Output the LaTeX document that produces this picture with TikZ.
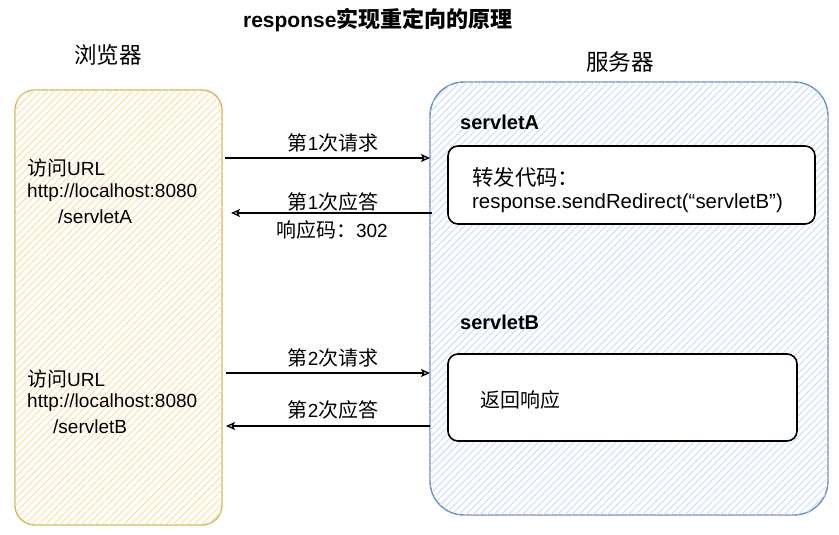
\documentclass[tikz,border=0pt]{standalone}
\usepackage{fontspec}
\setmainfont{Liberation Sans}
\newfontfamily\cjk[Scale=1.05]{Noto Sans CJK SC}
\usetikzlibrary{patterns.meta,arrows.meta}
\definecolor{ystroke}{HTML}{D6B656}
\definecolor{yhatch}{HTML}{F6E2A0}
\definecolor{bstroke}{HTML}{6C8EBF}
\definecolor{bhatch}{HTML}{C9DBF6}
\tikzset{
  bigbox/.style={draw, line width=1.4pt, inner sep=0pt, fill=white},
  browserbox/.style={bigbox, draw=ystroke, rounded corners=20pt,
     postaction={pattern={Lines[angle=45,distance=5pt,line width=0.9pt]}, pattern color=yhatch}},
  serverbox/.style={bigbox, draw=bstroke, rounded corners=34pt,
     postaction={pattern={Lines[angle=45,distance=5pt,line width=0.9pt]}, pattern color=bhatch}},
  codebox/.style={draw=black, line width=1.6pt, fill=white, rounded corners=10pt, inner sep=0pt},
  txt/.style={inner sep=0pt, font=\fontsize{19}{23}\selectfont},
  lbl/.style={txt, anchor=west},
  codetxt/.style={inner sep=0pt, anchor=west, font=\fontsize{20.4}{24}\selectfont},
  head/.style={inner sep=0pt, font=\fontsize{21.5}{25}\selectfont},
  bold/.style={inner sep=0pt, font=\fontsize{20}{24}\selectfont\bfseries},
  arr/.style={line width=1.3pt, -{Stealth[open,length=9pt,width=8pt,inset=2pt]}},
}
\begin{document}
\begin{tikzpicture}[x=1pt,y=-1pt]
\useasboundingbox (0,0) rectangle (839,535);
% title
\node[inner sep=0pt, font=\fontsize{21}{25}\selectfont\bfseries] (title) at (378,20) {response{\cjk\bfseries 实现重定向的原理}};
% column headers
\node[head] (hbrowser) at (108,55) {\cjk 浏览器};
\node[head] (hserver) at (620,62) {\cjk 服务器};
% big boxes
\node[browserbox, minimum width=207, minimum height=435] (browser) at (118.5,307.5) {};
\node[serverbox, minimum width=398, minimum height=433] (server) at (629,298.5) {};
% servlet labels
\node[bold, anchor=west] (sa) at (460,122) {servletA};
\node[bold, anchor=west] (sb) at (460,322) {servletB};
% inner boxes
\node[codebox, minimum width=367, minimum height=78] (boxA) at (631.5,185) {};
\node[codebox, minimum width=349, minimum height=87] (boxB) at (622.5,397.5) {};
\node[codetxt] (codeA1) at (472,177) {\cjk 转发代码：};
\node[codetxt] (codeA2) at (472,203) {response.sendRedirect(“servletB”)};
\node[lbl] (codeB) at (480,400) {\cjk 返回响应};
% browser texts
\node[lbl] (u1a) at (27,168) {{\cjk 访问}URL};
\node[lbl] (u1b) at (27,193) {http://localhost:8080};
\node[lbl] (u1c) at (58,217) {/servletA};
\node[lbl] (u2a) at (27,379) {{\cjk 访问}URL};
\node[lbl] (u2b) at (27,403) {http://localhost:8080};
\node[lbl] (u2c) at (53,427) {/servletB};
% arrow end points
\coordinate (r1s) at (225,158);
\coordinate (r1e) at (430,158);
\coordinate (a1s) at (432,213);
\coordinate (a1e) at (231,213);
\coordinate (r2s) at (226,373);
\coordinate (r2e) at (430,373);
\coordinate (a2s) at (430,426);
\coordinate (a2e) at (226,426);
\draw[arr] (r1s) -- (r1e);
\draw[arr] (a1s) -- (a1e);
\draw[arr] (r2s) -- (r2e);
\draw[arr] (a2s) -- (a2e);
% arrow labels
\node[txt] (l1) at (333,143) {{\cjk 第}1{\cjk 次请求}};
\node[txt] (l2) at (333,202) {{\cjk 第}1{\cjk 次应答}};
\node[txt] (l3) at (332,230) {{\cjk 响应码：}302};
\node[txt] (l4) at (333,358) {{\cjk 第}2{\cjk 次请求}};
\node[txt] (l5) at (333,410) {{\cjk 第}2{\cjk 次应答}};
\end{tikzpicture}
\end{document}
